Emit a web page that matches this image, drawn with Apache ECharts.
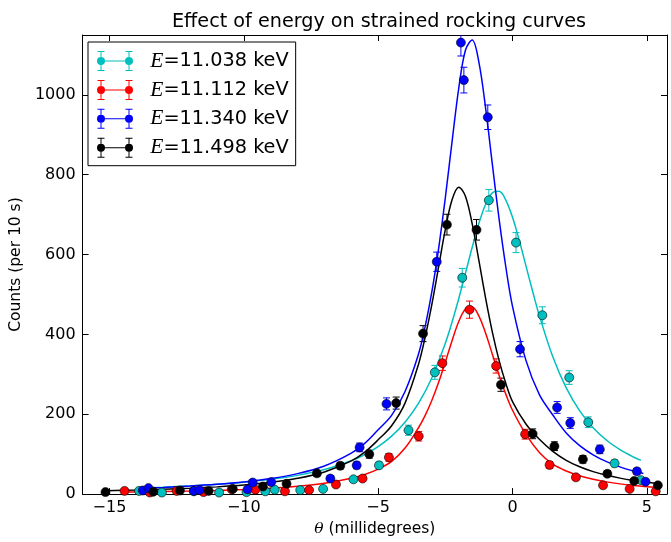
<!DOCTYPE html>
<html>
<head>
<meta charset="utf-8">
<script src="https://cdn.jsdelivr.net/npm/echarts@6/dist/echarts.min.js"></script>
<style>html,body{margin:0;padding:0;background:#fff}#c{width:671px;height:542px}</style>
</head>
<body>
<div id="c"></div>
<script>
// ---- tick labels ----
const xTicks = [-15, -10, -5, 0, 5];
const yTicks = [0, 200, 400, 600, 800, 1000];

// ---- series names ----
const energies = ['11.038', '11.112', '11.340', '11.498'];

// ---- measured points (theta in millidegrees, counts per 10 s) ----
const cyanX = [-13.9,-13.05,-11.86,-10.92,-9.9,-9.2,-8.85,-7.9,-7.05,-5.92,-4.97,-3.87,-2.89,-1.87,-0.88,0.13,1.11,2.11,2.82,3.80,4.78];
const cyanY = [8,4,7,4,5,7,11,10,13,37,72,160,305,542,736,630,448,292,180,77,35];
const redX = [-14.44,-13.5,-12.5,-11.5,-10.45,-9.57,-8.47,-7.57,-6.57,-5.58,-4.60,-3.49,-2.61,-1.60,-0.61,0.47,1.38,2.36,3.37,4.36,5.33];
const redY = [8,4,8,5,12,11,7,10,24,39,92,145,328,462,321,150,73,42,22,13,7];
const blueX = [-13.76,-13.55,-11.86,-11.65,-9.86,-9.67,-8.98,-6.78,-5.80,-5.69,-4.69,-2.82,-1.92,-1.81,-0.92,0.28,1.66,2.15,3.25,4.63,4.95];
const blueY = [9,15,8,10,12,29,30,39,72,117,226,582,1131,1037,944,363,217,178,112,57,31];
const blackX = [-15.15,-13.37,-12.38,-11.31,-10.41,-9.29,-8.41,-7.28,-6.41,-5.33,-4.33,-3.33,-2.44,-1.34,-0.43,0.75,1.56,2.62,3.53,4.53,5.41];
const blackY = [5,6,9,8,13,19,26,52,71,100,228,402,675,662,274,151,120,87,51,33,22];

// ---- fitted curves ----
const cyanFitX = [-13.9,-13,-12,-11,-10,-9,-8,-7,-6,-5.5,-5,-4.5,-4,-3.5,-3,-2.5,-2.25,-2,-1.75,-1.5,-1.25,-1,-0.75,-0.5,-0.25,0,0.25,0.5,0.75,1,1.5,2,2.5,3,3.5,4,4.5,4.78];
const cyanFitY = [15.2,17.4,20.5,24.5,29.8,36.9,46.9,61.4,83.4,99.0,119.0,145.2,180.0,227.1,291.3,378.0,431.0,490.1,553.6,618.2,678.2,726.2,754.6,758.3,736.4,693.2,635.7,571.8,507.5,447.0,343.9,265.9,208.5,166.3,134.9,111.2,92.9,84.6];
const redFitX = [-14.44,-14,-13,-12,-11,-10,-9,-8,-7,-6,-5.5,-5,-4.5,-4,-3.5,-3.25,-3,-2.75,-2.5,-2.25,-2,-1.75,-1.5,-1.25,-1,-0.75,-0.5,-0.25,0,0.5,1,1.5,2,2.5,3,3.5,4,4.5,5,5.33];
const redFitY = [5.0,5.4,6.4,7.6,9.3,11.6,14.8,19.6,27.1,39.6,49.2,62.6,81.8,115.3,166.2,197.2,235.0,279.9,331.0,384.4,432.2,463.4,468.5,445.9,402.8,350.3,297.7,250.4,210.0,149.4,104.4,74.8,57.8,45.8,37.1,30.6,25.6,21.8,18.7,17.0];
const blueFitX = [-13.76,-13,-12,-11,-10,-9,-8,-7,-6,-5.5,-5,-4.5,-4,-3.5,-3.25,-3,-2.75,-2.5,-2.25,-2,-1.75,-1.5,-1.25,-1,-0.75,-0.5,-0.25,0,0.5,1,1.5,2,2.5,3,3.5,4,4.5,4.87];
const blueFitY = [14.8,16.8,20.1,24.5,30.4,38.8,51.3,70.5,102.6,127.1,161.1,197.1,257.1,350.5,420.3,507.6,615.0,742.5,882.9,1017.1,1112.6,1137.3,1081.4,966.1,826.1,689.3,569.5,470.4,334.9,249.1,198.2,153.3,121.6,98.5,81.3,68.2,57.9,51.7];
const blackFitX = [-15.15,-14,-13,-12,-11,-10,-9,-8,-7,-6,-5.5,-5,-4.5,-4,-3.5,-3.25,-3,-2.75,-2.5,-2.25,-2,-1.75,-1.5,-1.25,-1,-0.75,-0.5,-0.25,0,0.5,1,1.5,2,2.5,3,3.5,4,4.5,5,5.4];
const blackFitY = [8.6,10.3,12.2,14.7,18.1,22.7,29.4,39.5,55.5,83.2,105.1,136.0,171.3,228.0,324.9,393.5,476.0,569.3,662.9,737.2,768.8,745.7,676.7,584.6,490.3,405.8,334.9,277.5,231.6,175.6,137.3,107.1,84.7,68.4,56.3,47.1,40.0,34.3,29.7,26.7];

const colors = ['#00BFBF', '#FF0000', '#0000FF', '#000000'];
const groups = [
  [cyanX, cyanY, cyanFitX, cyanFitY],
  [redX, redY, redFitX, redFitY],
  [blueX, blueY, blueFitX, blueFitY],
  [blackX, blackY, blackFitX, blackFitY]
];

const FONT = 'DejaVu Sans';
const legendIcon = 'path://M4 9.5H32V10.5H4Z M3.5 0H4.5V20H3.5Z M0.5 0H7.5V1H0.5Z M0.5 19H7.5V20H0.5Z M31.5 0H32.5V20H31.5Z M28.5 0H35.5V1H28.5Z M28.5 19H35.5V20H28.5Z M0 10A4 4 0 1 1 8 10A4 4 0 1 1 0 10Z M28 10A4 4 0 1 1 36 10A4 4 0 1 1 28 10Z';

const names = energies.map(e => 'E=' + e + ' keV');
const series = [];
groups.forEach((g, i) => {
  const [px, py, fx, fy] = g;
  const c = colors[i];
  series.push({
    type: 'custom', name: 'err' + i, silent: true, clip: true,
    data: px.map((x, k) => [x, py[k], Math.sqrt(py[k])]),
    renderItem: function (params, api) {
      const x = api.value(0), y = api.value(1), e = api.value(2);
      const t = api.coord([x, y + e]), b = api.coord([x, y - e]);
      const w = 3.5;
      const st = { stroke: c, lineWidth: 1 };
      return { type: 'group', children: [
        { type: 'line', shape: { x1: t[0], y1: t[1], x2: b[0], y2: b[1] }, style: st },
        { type: 'line', shape: { x1: t[0] - w, y1: t[1], x2: t[0] + w, y2: t[1] }, style: st },
        { type: 'line', shape: { x1: b[0] - w, y1: b[1], x2: b[0] + w, y2: b[1] }, style: st }
      ]};
    },
    z: 2
  });
  series.push({
    type: 'scatter', name: 'pts' + i, silent: true,
    data: px.map((x, k) => [x, py[k]]),
    symbol: 'circle', symbolSize: 9,
    itemStyle: { color: c, borderColor: '#000', borderWidth: 0.6, opacity: 1 },
    z: 2
  });
  series.push({
    type: 'line', name: names[i], silent: true,
    data: fx.map((x, k) => [x, fy[k]]),
    showSymbol: false, symbol: 'none', smooth: 0.35,
    color: c,
    itemStyle: { color: c },
    lineStyle: { color: c, width: 1.5 },
    z: 2
  });
});

const chart = echarts.init(document.getElementById('c'), null, { renderer: 'canvas' });
const axisCommon = {
  axisLine: { show: true, onZero: false, lineStyle: { color: '#000', width: 1 } },
  splitLine: { show: false }
};
chart.setOption({
  animation: false,
  backgroundColor: '#fff',
  title: {
    text: 'Effect of energy on strained rocking curves',
    left: 374, top: 8, textAlign: 'center',
    textStyle: { fontFamily: FONT, fontSize: 19.2, fontWeight: 'normal', color: '#000' }
  },
  grid: { left: 78, right: 4, top: 35, bottom: 46, containLabel: false },
  legend: {
    orient: 'vertical', left: 88, top: 42,
    padding: [8, 7, 7, 9],
    itemWidth: 36, itemHeight: 20, itemGap: 6.9,
    backgroundColor: '#fff', borderColor: '#000', borderWidth: 1, borderRadius: 0,
    data: names.map(n => ({ name: n, icon: legendIcon })),
    itemStyle: { borderWidth: 0 },
    formatter: function (n) { return '  {it|E}' + n.slice(1); },
    textStyle: {
      fontFamily: FONT, fontSize: 19.3, color: '#000',
      rich: { it: { fontFamily: 'Liberation Serif', fontStyle: 'italic', fontSize: 21.5, color: '#000' } }
    },
    selectedMode: false
  },
  xAxis: [
    Object.assign({}, axisCommon, {
      type: 'value', min: -16, max: 5.75, position: 'bottom',
      axisTick: { show: true, inside: true, length: 6, customValues: xTicks, lineStyle: { color: '#000' } },
      axisLabel: { show: true, customValues: xTicks, margin: 6, fontFamily: FONT, fontSize: 16, color: '#000',
        formatter: v => String(v).replace('-', '\u2212') },
      name: '{it|\u03b8} (millidegrees)', nameLocation: 'middle', nameGap: 25,
      nameTextStyle: { fontFamily: FONT, fontSize: 15.5, color: '#000',
        rich: { it: { fontFamily: 'DejaVu Serif', fontStyle: 'italic', fontSize: 15.5, color: '#000' } } }
    }),
    Object.assign({}, axisCommon, {
      type: 'value', min: -16, max: 5.75, position: 'top',
      axisTick: { show: true, inside: true, length: 6, customValues: xTicks, lineStyle: { color: '#000' } },
      axisLabel: { show: false }
    })
  ],
  yAxis: [
    Object.assign({}, axisCommon, {
      type: 'value', min: 0, max: 1150, position: 'left',
      axisTick: { show: true, inside: true, length: 6, customValues: yTicks, lineStyle: { color: '#000' } },
      axisLabel: { show: true, customValues: yTicks, margin: 7, fontFamily: FONT, fontSize: 16, color: '#000',
        formatter: v => String(v) },
      name: 'Counts (per 10 s)', nameLocation: 'middle', nameGap: 50, nameRotate: 90,
      nameTextStyle: { fontFamily: FONT, fontSize: 15.5, color: '#000' }
    }),
    Object.assign({}, axisCommon, {
      type: 'value', min: 0, max: 1150, position: 'right',
      axisTick: { show: true, inside: true, length: 6, customValues: yTicks, lineStyle: { color: '#000' } },
      axisLabel: { show: false }
    })
  ],
  series: series
});
</script>
</body>
</html>
